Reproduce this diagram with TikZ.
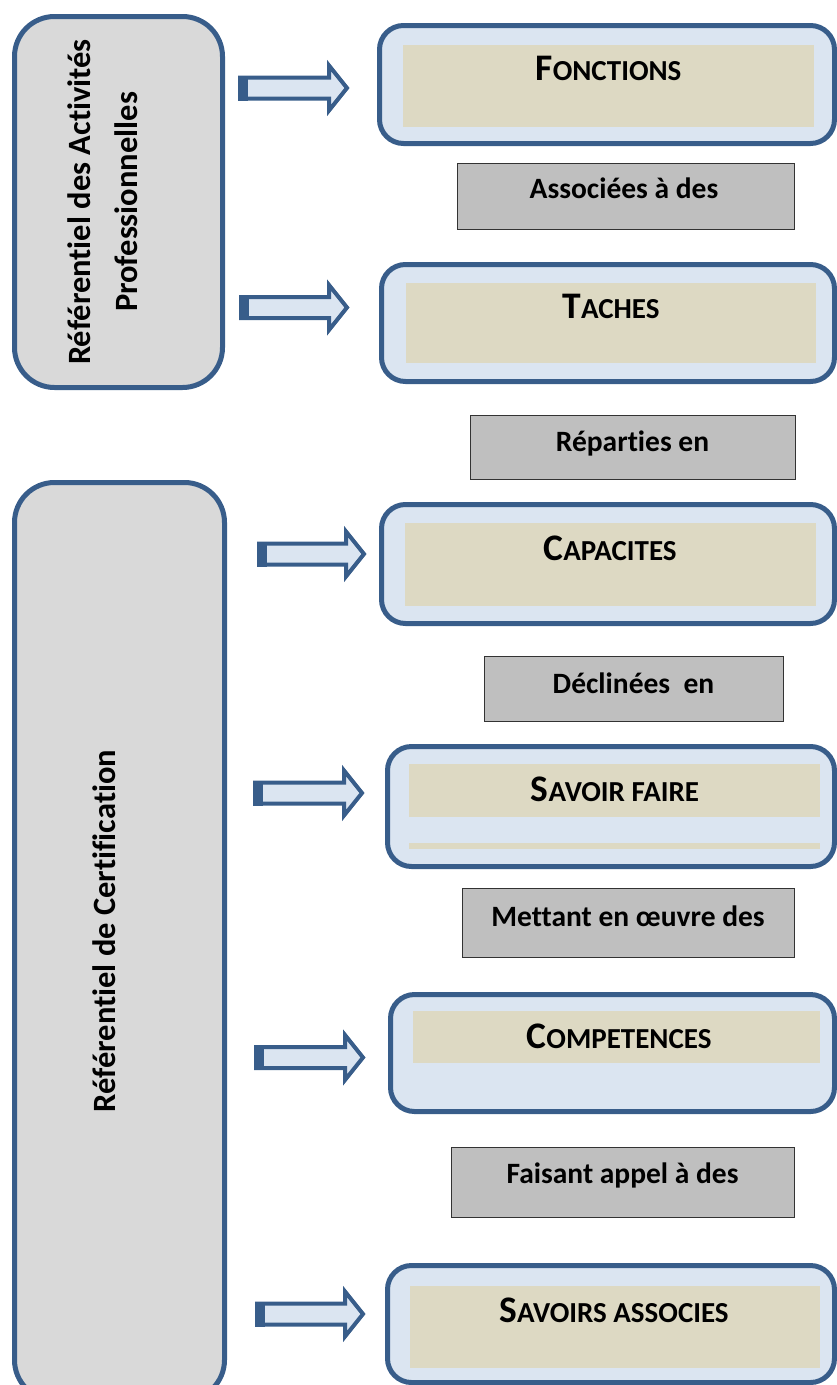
\documentclass[tikz,border=0pt]{standalone}
\usepackage{fontspec}
\setmainfont{Carlito}[Ligatures=NoCommon]
\definecolor{bdr}{HTML}{385D8A}
\definecolor{lblue}{HTML}{DBE5F1}
\definecolor{tanc}{HTML}{DDD9C3}
\definecolor{lgray}{HTML}{D9D9D9}
\definecolor{mgray}{HTML}{BFBFBF}
\tikzset{
  refbox/.style={draw=bdr, line width=5pt, fill=lgray, rounded corners=40pt},
  outbox/.style={draw=bdr, line width=5pt, fill=lblue, rounded corners=24pt},
  inbox/.style={fill=tanc},
  lblbox/.style={draw=black!80, line width=1pt, fill=mgray},
  lbltext/.style={font=\fontsize{29.5}{34}\selectfont\bfseries, anchor=base, inner sep=0pt},
  ttl/.style={anchor=base, inner sep=0pt, font=\bfseries},
  vtext/.style={rotate=90, align=center, inner sep=0pt, font=\fontsize{32.5}{47}\selectfont\bfseries},
  blockarrow/.style={draw=bdr, line width=4pt, fill=lblue, line join=miter},
}
\newcommand{\bigsc}[2]{{\fontsize{37.5}{42}\selectfont #1}{\fontsize{29}{34}\selectfont #2}}
% #1 left x (outer), #2 centre y, #3 tip x (outer)
\newcommand{\blockarr}[3]{%
  \draw[blockarrow] (#1+2,#2-10.5) -- (#3-23,#2-10.5) -- (#3-23,#2-22.5) -- (#3-5,#2)
     -- (#3-23,#2+22.5) -- (#3-23,#2+10.5) -- (#1+2,#2+10.5) -- cycle;
  \fill[bdr] (#1,#2-12.5) rectangle (#1+10,#2+12.5);}
\begin{document}
\begin{tikzpicture}[x=1pt,y=-1pt]
\useasboundingbox (0,0) rectangle (837,1385);
% left boxes
\draw[refbox] (14.5,16.5) rectangle (222.5,387.5);
\node[vtext] (rap) at (103,202) {Référentiel des Activités\\Professionnelles};
\draw[refbox] (14.5,482.5) rectangle (224.5,1400);
\node[vtext] (rc) at (104,931) {Référentiel de Certification};
% right boxes
\node[outbox, outer sep=0pt, inner sep=0pt, minimum width=455pt, minimum height=118pt] (bfon) at (607,84.5) {};
\fill[inbox] (403,45) rectangle (814,127);
\node[ttl] (tfon) at (608.5,80) {\bigsc{F}{ONCTIONS}};

\node[outbox, outer sep=0pt, inner sep=0pt, minimum width=453pt, minimum height=117pt] (btac) at (608,323) {};
\fill[inbox] (406,283) rectangle (816,363);
\node[ttl] (ttac) at (611,318) {\bigsc{T}{ACHES}};

\node[outbox, outer sep=0pt, inner sep=0pt, minimum width=453pt, minimum height=119pt] (bcap) at (608,564) {};
\fill[inbox] (405,523) rectangle (816,606);
\node[ttl] (tcap) at (610,560) {\bigsc{C}{APACITES}};

\node[outbox, outer sep=0pt, inner sep=0pt, minimum width=447pt, minimum height=120pt] (bsf) at (611,806.5) {};
\fill[inbox] (409,764) rectangle (820,817);
\fill[inbox] (409,843) rectangle (820,849);
\node[ttl] (tsf) at (615,801) {\bigsc{S}{AVOIR FAIRE}};

\node[outbox, outer sep=0pt, inner sep=0pt, minimum width=444pt, minimum height=117pt] (bcomp) at (612.5,1053) {};
\fill[inbox] (413,1011) rectangle (820,1063);
\node[ttl] (tcomp) at (619,1048) {\bigsc{C}{OMPETENCES}};

\node[outbox, outer sep=0pt, inner sep=0pt, minimum width=447pt, minimum height=117pt] (bsa) at (611,1324) {};
\fill[inbox] (410,1286) rectangle (820,1368);
\node[ttl] (tsa) at (614,1322) {\bigsc{S}{AVOIRS ASSOCIES}};

% labels
\draw[lblbox] (457,163) rectangle (794,229);
\node[lbltext] (la) at (624,198) {Associées à des};
\draw[lblbox] (470,415) rectangle (795,479);
\node[lbltext] (lb) at (632.5,451) {Réparties en};
\draw[lblbox] (484,656) rectangle (783,721);
\node[lbltext] (lc) at (633.5,693) {Déclinées~ en};
\draw[lblbox] (462,888) rectangle (794,957);
\node[lbltext] (ld) at (628,926) {Mettant en œuvre des};
\draw[lblbox] (451,1147) rectangle (794,1217);
\node[lbltext] (le) at (622.5,1183) {Faisant appel à des};

% block arrows
\blockarr{238}{88}{352}
\blockarr{239}{307.5}{352}
\blockarr{257}{554}{369}
\blockarr{253}{793}{367}
\blockarr{254}{1057.5}{368}
\blockarr{255}{1314}{368}
\end{tikzpicture}
\end{document}
